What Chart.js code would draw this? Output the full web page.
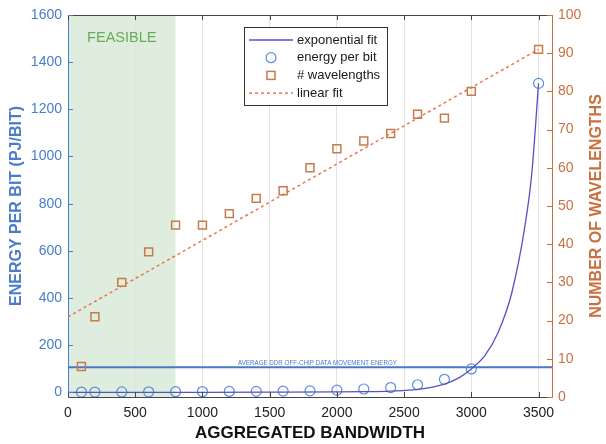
<!DOCTYPE html>
<html>
<head>
<meta charset="utf-8">
<script src="https://cdn.jsdelivr.net/npm/chart.js@4.4.0/dist/chart.umd.min.js"></script>
<style>
  html, body { margin: 0; padding: 0; background: #fff; }
  #wrap { width: 606px; height: 444px; }
</style>
</head>
<body>
<div id="wrap"><canvas id="chart"></canvas></div>
<script>
// measured data
const bandwidth = [100, 200, 400, 600, 800, 1000, 1200, 1400, 1600, 1800, 2000, 2200, 2400, 2600, 2800, 3000, 3500];
const energyPerBit = [1, 1, 1.5, 2, 2.5, 3, 3.5, 4, 5, 6, 9, 14, 20, 32, 55, 99, 1310];
const wavelengths = [8, 21, 30, 38, 45, 45, 48, 52, 54, 60, 65, 67, 69, 74, 73, 80, 91];

// fitted curves
const expFitX = [0, 1000, 1500, 2000, 2200, 2400, 2600, 2800, 2900, 3000, 3100, 3200, 3300, 3400, 3450, 3500];
const expFitY = [0, 0, 0.5, 1.5, 2.5, 5, 12, 35, 59, 99, 155, 255, 420, 710, 930, 1310];
const linearFitX = [0, 3500];
const linearFitY = [21, 91];

// reference level + feasible region
const ddrX = [0, 3600];
const ddrEnergy = [106, 106];
const feasibleMax = 800;

// tick labels
const xTicks = [0, 500, 1000, 1500, 2000, 2500, 3000, 3500];
const yTicks = [0, 200, 400, 600, 800, 1000, 1200, 1400, 1600];
const y2Ticks = [0, 10, 20, 30, 40, 50, 60, 70, 80, 90, 100];

const BLUE = '#4a7cc9';
const ORANGE = '#c9703e';
const FONT = '"Liberation Sans", Arial, Helvetica, sans-serif';

const pts = (xs, ys) => xs.map((x, i) => ({ x: x, y: ys[i] }));
const plain = v => String(v);

// green band + titles + inward ticks + legend
const decorations = {
  id: 'decorations',
  beforeDraw(chart) {
    const { ctx, chartArea: a, scales } = chart;
    const x1 = scales.x.getPixelForValue(0);
    const x2 = scales.x.getPixelForValue(feasibleMax);
    ctx.save();
    ctx.fillStyle = 'rgb(222,237,222)';
    ctx.fillRect(x1, a.top, x2 - x1, a.bottom - a.top);
    ctx.restore();
  },
  afterDraw(chart) {
    const { ctx, chartArea: a, scales } = chart;
    ctx.save();

    // top frame
    ctx.strokeStyle = '#444';
    ctx.lineWidth = 1;
    ctx.beginPath();
    ctx.moveTo(a.left, a.top + 0.5);
    ctx.lineTo(a.right, a.top + 0.5);
    ctx.stroke();

    // inward ticks
    xTicks.forEach(v => {
      const px = Math.round(scales.x.getPixelForValue(v)) + 0.5;
      ctx.beginPath();
      ctx.moveTo(px, a.bottom); ctx.lineTo(px, a.bottom - 5);
      ctx.moveTo(px, a.top); ctx.lineTo(px, a.top + 5);
      ctx.stroke();
    });
    ctx.strokeStyle = BLUE;
    yTicks.forEach(v => {
      const py = Math.round(scales.y.getPixelForValue(v)) + 0.5;
      ctx.beginPath(); ctx.moveTo(a.left, py); ctx.lineTo(a.left + 5, py); ctx.stroke();
    });
    ctx.strokeStyle = ORANGE;
    y2Ticks.forEach(v => {
      const py = Math.round(scales.y2.getPixelForValue(v)) + 0.5;
      ctx.beginPath(); ctx.moveTo(a.right, py); ctx.lineTo(a.right - 5, py); ctx.stroke();
    });

    // FEASIBLE label
    ctx.fillStyle = '#6aaa5c';
    ctx.font = '14.5px ' + FONT;
    ctx.textAlign = 'center';
    ctx.textBaseline = 'middle';
    const fx = (scales.x.getPixelForValue(0) + scales.x.getPixelForValue(feasibleMax)) / 2;
    ctx.fillText('FEASIBLE', fx, a.top + 23);

    // DDR annotation
    const label = 'AVERAGE DDR OFF-CHIP DATA MOVEMENT ENERGY';
    ctx.font = '7.5px "Liberation Sans Narrow", ' + FONT;
    const w = ctx.measureText(label).width;
    const target = 159;
    const ly = scales.y.getPixelForValue(ddrEnergy[0]) - 4;
    ctx.save();
    ctx.translate(238, ly);
    ctx.scale(target / w, 1);
    ctx.fillStyle = BLUE;
    ctx.textAlign = 'left';
    ctx.fillText(label, 0, 0);
    ctx.restore();

    // axis titles
    ctx.font = 'bold 16px ' + FONT;
    ctx.textAlign = 'center';
    ctx.textBaseline = 'middle';
    const midY = (a.top + a.bottom) / 2;
    ctx.save();
    ctx.translate(17, midY);
    ctx.rotate(-Math.PI / 2);
    ctx.fillStyle = BLUE;
    ctx.fillText('ENERGY PER BIT (PJ/BIT)', 0, 0);
    ctx.restore();
    ctx.save();
    ctx.translate(597, midY);
    ctx.rotate(-Math.PI / 2);
    ctx.fillStyle = ORANGE;
    ctx.fillText('NUMBER OF WAVELENGTHS', 0, 0);
    ctx.restore();
    ctx.font = 'bold 17px ' + FONT;
    ctx.fillStyle = '#111';
    ctx.fillText('AGGREGATED BANDWIDTH', (a.left + a.right) / 2, 433);

    // legend
    const bx = 244, by = 27, bw = 143, bh = 78;
    ctx.fillStyle = '#fff';
    ctx.fillRect(bx, by, bw, bh);
    ctx.strokeStyle = '#333';
    ctx.lineWidth = 1;
    ctx.strokeRect(bx + 0.5, by + 0.5, bw, bh);
    const items = chart.data.datasets.filter(d => !d.noLegend);
    items.forEach((d, i) => {
      const cy = 40 + i * 17.7;
      ctx.save();
      ctx.strokeStyle = d.borderColor;
      if (d.showLine) {
        ctx.lineWidth = d.borderWidth;
        ctx.setLineDash(d.borderDash || []);
        ctx.beginPath(); ctx.moveTo(249, cy); ctx.lineTo(293, cy); ctx.stroke();
      } else if (d.pointStyle === 'circle') {
        ctx.lineWidth = d.pointBorderWidth;
        ctx.beginPath(); ctx.arc(271, cy, 5, 0, Math.PI * 2); ctx.stroke();
      } else {
        ctx.lineWidth = d.pointBorderWidth;
        ctx.strokeRect(267, cy - 4, 8, 8);
      }
      ctx.restore();
      ctx.fillStyle = '#1a1a1a';
      ctx.font = '13px ' + FONT;
      ctx.textAlign = 'left';
      ctx.textBaseline = 'middle';
      ctx.fillText(d.label, 297, cy);
    });

    ctx.restore();
  }
};

const data = {
  datasets: [
    {
      label: 'exponential fit',
      data: pts(expFitX, expFitY),
      showLine: true,
      borderColor: '#5a50bf',
      borderWidth: 1.3,
      pointRadius: 0,
      cubicInterpolationMode: 'monotone',
      yAxisID: 'y'
    },
    {
      label: 'energy per bit',
      data: pts(bandwidth, energyPerBit),
      showLine: false,
      pointStyle: 'circle',
      pointRadius: 5,
      pointBorderWidth: 1.2,
      borderColor: '#5b8fd8',
      backgroundColor: 'rgba(0,0,0,0)',
      yAxisID: 'y'
    },
    {
      label: '# wavelengths',
      data: pts(bandwidth, wavelengths),
      showLine: false,
      pointStyle: 'rect',
      pointRadius: 5.6,
      pointBorderWidth: 1.5,
      borderColor: '#c87a4a',
      backgroundColor: 'rgba(0,0,0,0)',
      yAxisID: 'y2'
    },
    {
      label: 'linear fit',
      data: pts(linearFitX, linearFitY),
      showLine: true,
      borderColor: '#e8774e',
      borderWidth: 1.5,
      borderDash: [3, 3],
      pointRadius: 0,
      yAxisID: 'y2'
    },
    {
      label: 'ddr',
      noLegend: true,
      data: pts(ddrX, ddrEnergy),
      showLine: true,
      borderColor: '#4a78c4',
      borderWidth: 2,
      pointRadius: 0,
      yAxisID: 'y'
    }
  ]
};

const config = {
  type: 'scatter',
  data: data,
  options: {
    responsive: true,
    maintainAspectRatio: false,
    animation: false,
    layout: { padding: { top: 15, left: 0, right: 0, bottom: 0 } },
    plugins: { legend: { display: false }, tooltip: { enabled: false } },
    scales: {
      x: {
        type: 'linear',
        min: 0,
        max: 3600,
        afterBuildTicks: s => { s.ticks = xTicks.map(v => ({ value: v })); },
        afterFit: s => { s.height = 47; },
        grid: { color: '#e2e2e2', drawTicks: false },
        border: { color: '#444', width: 1 },
        ticks: { color: '#222', font: { family: FONT, size: 14 }, padding: 8, callback: plain }
      },
      y: {
        type: 'linear',
        position: 'left',
        min: -20,
        max: 1600,
        afterBuildTicks: s => { s.ticks = yTicks.map(v => ({ value: v })); },
        afterFit: s => { s.width = 68; },
        grid: { display: false, drawTicks: false },
        border: { color: BLUE, width: 1 },
        ticks: { color: BLUE, font: { family: FONT, size: 14 }, padding: 6, callback: plain }
      },
      y2: {
        type: 'linear',
        position: 'right',
        min: 0,
        max: 100,
        afterBuildTicks: s => { s.ticks = y2Ticks.map(v => ({ value: v })); },
        afterFit: s => { s.width = 54; },
        grid: { display: false, drawTicks: false },
        border: { color: ORANGE, width: 1 },
        ticks: { color: ORANGE, font: { family: FONT, size: 14 }, padding: 6, callback: plain }
      }
    }
  },
  plugins: [decorations]
};

new Chart(document.getElementById('chart'), config);
</script>
</body>
</html>
